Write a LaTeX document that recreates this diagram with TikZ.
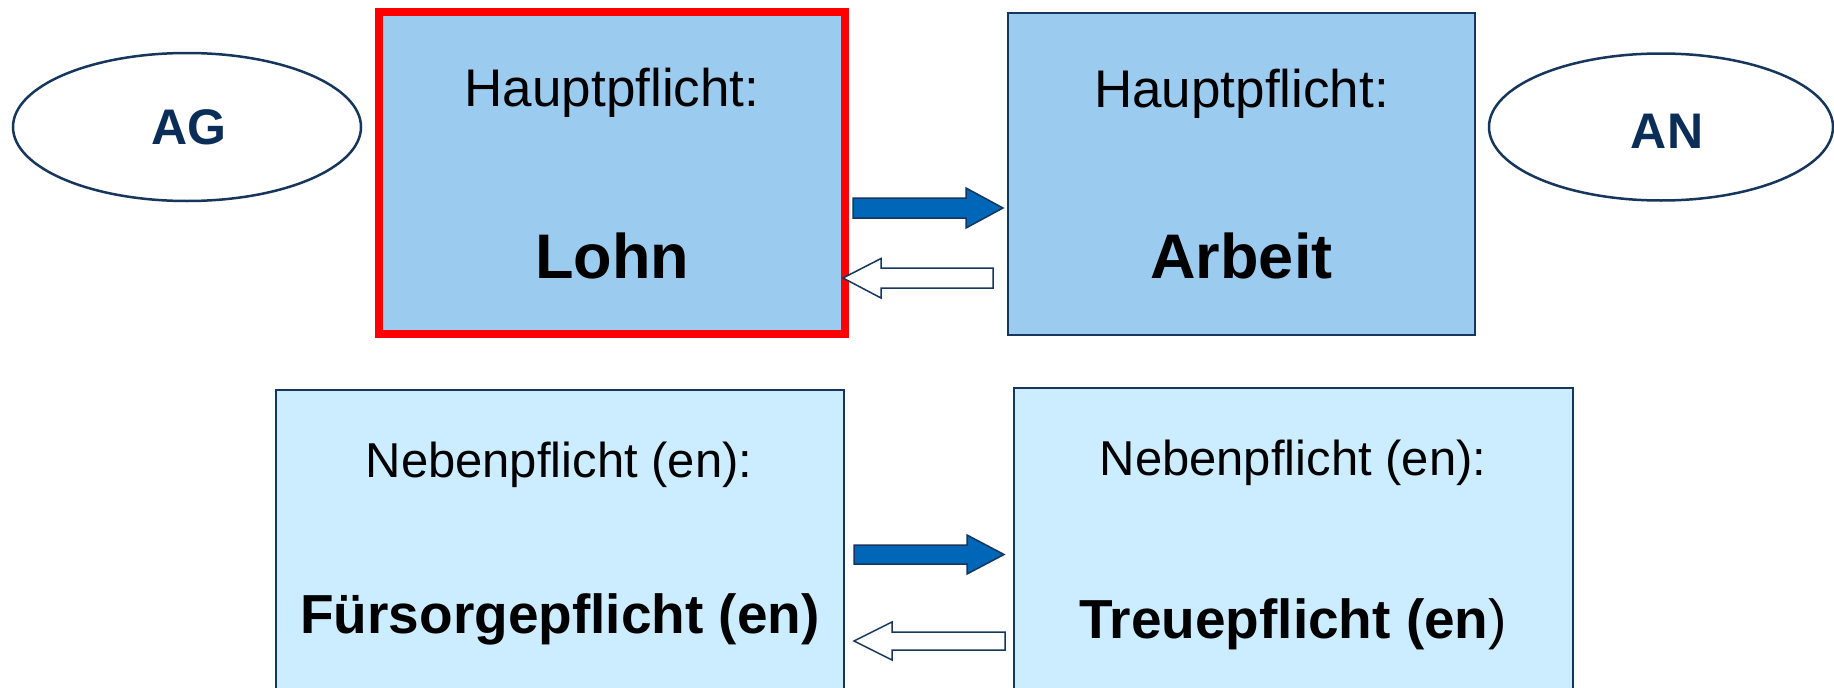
\documentclass[tikz,border=0pt]{standalone}
\usepackage{fontspec}
\setmainfont{Liberation Sans}
\usetikzlibrary{shapes.geometric}
\definecolor{topfill}{HTML}{9BCBEE}
\definecolor{botfill}{HTML}{CCECFF}
\definecolor{navy}{HTML}{17365D}
\definecolor{arrowblue}{HTML}{0066B8}
\definecolor{agtext}{HTML}{0B2E59}
\tikzset{
  boxtop/.style={draw=navy, line width=2pt, fill=topfill, rectangle, inner sep=0pt},
  boxbot/.style={draw=navy, line width=2pt, fill=botfill, rectangle, inner sep=0pt},
  party/.style={draw=navy, line width=2.5pt, fill=white, ellipse, inner sep=0pt},
  partytext/.style={inner sep=0pt, text=agtext, font=\fontsize{50}{60}\selectfont\bfseries},
  lbl/.style={anchor=base, inner sep=0pt, font=\fontsize{53}{62}\selectfont},
  lblsmall/.style={anchor=base, inner sep=0pt, font=\fontsize{49}{58}\selectfont},
  bigbold/.style={anchor=base, inner sep=0pt, font=\fontsize{63}{72}\selectfont\bfseries},
  midbold/.style={anchor=base, inner sep=0pt, font=\fontsize{55}{66}\selectfont\bfseries},
  fullarrow/.style={draw=navy, line width=1.5pt, fill=arrowblue, line join=miter},
  hollowarrow/.style={draw=navy, line width=1.5pt, fill=white, line join=miter}
}
\begin{document}
\begin{tikzpicture}[x=1pt, y=-1pt]
\useasboundingbox (0,0) rectangle (1834,688);
\clip (0,0) rectangle (1834,688);
\fill[white] (0,0) rectangle (1834,688);

% parties
\node[party, minimum width=348pt, minimum height=148pt] (ag) at (187,127) {};
\node[partytext] (agtxt) at (189,127) {AG};
\node[party, minimum width=344pt, minimum height=147pt] (an) at (1661,127) {};
\node[partytext] (antxt) at (1667,131) {AN};

% main duty boxes
\node[boxtop, draw=red, line width=8pt, minimum width=466pt, minimum height=322pt] (lohnbox) at (612,173) {};
\node[boxtop, minimum width=467pt, minimum height=322pt] (arbeitbox) at (1241.5,174) {};

% secondary duty boxes
\node[boxbot, minimum width=568pt, minimum height=330pt] (fuerbox) at (560,555) {};
\node[boxbot, minimum width=559pt, minimum height=332pt] (treuebox) at (1293.5,554) {};

% texts
\node[lbl] (h1) at (612,106) {Hauptpflicht:};
\node[lbl] (h2) at (1241.5,107) {Hauptpflicht:};
\node[bigbold] (lohn) at (612,278) {Lohn};
\node[bigbold] (arbeit) at (1241.5,278) {Arbeit};
\node[lblsmall] (n1) at (559,477) {Nebenpflicht (en):};
\node[lblsmall] (n2) at (1293,475) {Nebenpflicht (en):};
\node[midbold] (fuer) at (560,633) {Fürsorgepflicht (en)};
\node[midbold] (treue) at (1293,638) {Treuepflicht (en\textmd{)}};

% block arrows (tips as named coordinates)
\coordinate (t1) at (1003,208);
\draw[fullarrow] (t1) -- ++(-37,-20) -- ++(0,10) -- ++(-113,0) -- ++(0,20) -- ++(113,0) -- ++(0,10) -- cycle;
\coordinate (t2) at (843,278);
\draw[hollowarrow] (t2) -- ++(38,-19.5) -- ++(0,9.5) -- ++(112,0) -- ++(0,20) -- ++(-112,0) -- ++(0,10) -- cycle;
\coordinate (t3) at (1004,554.5);
\draw[fullarrow] (t3) -- ++(-37,-19.5) -- ++(0,10) -- ++(-113,0) -- ++(0,19) -- ++(113,0) -- ++(0,10) -- cycle;
\coordinate (t4) at (854,641);
\draw[hollowarrow] (t4) -- ++(38,-19) -- ++(0,10) -- ++(113,0) -- ++(0,18) -- ++(-113,0) -- ++(0,10) -- cycle;
\end{tikzpicture}
\end{document}
